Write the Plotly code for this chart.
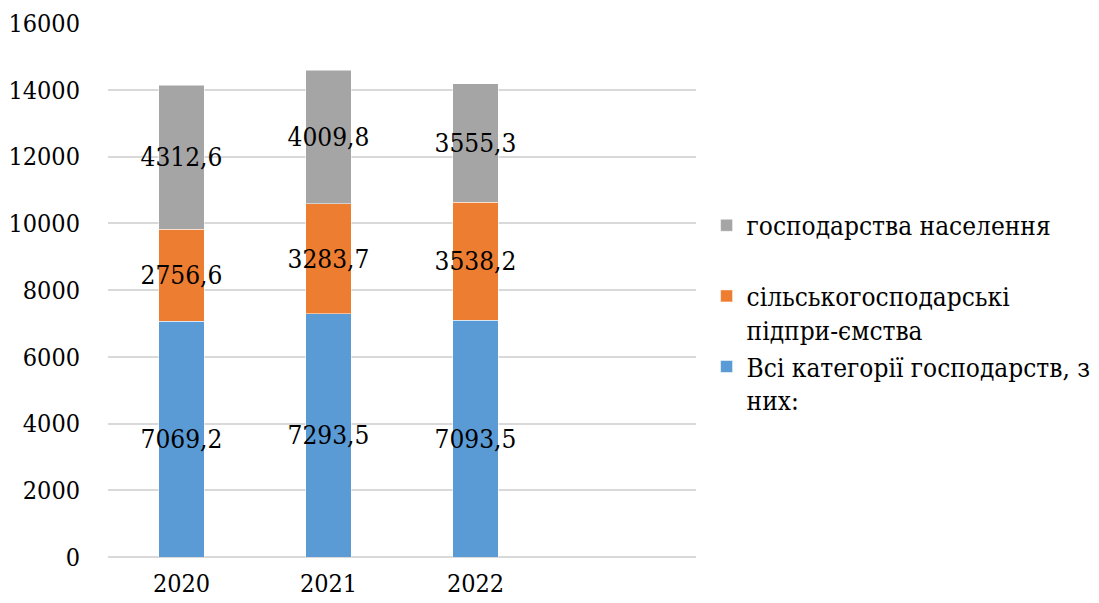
import plotly.graph_objects as go

years = ["2020", "2021", "2022"]
all_categories = [7069.2, 7293.5, 7093.5]
agri_enterprises = [2756.6, 3283.7, 3538.2]
households = [4312.6, 4009.8, 3555.3]

names = [
    "Всі категорії господарств, з<br>них:",
    "сільськогосподарські<br>підпри-ємства",
    "господарства населення<br> ",
]
colors = ["#5B9BD5", "#ED7D31", "#A5A5A5"]
series = [all_categories, agri_enterprises, households]

def fmt(v):
    return f"{v:.1f}".replace(".", ",")

FONT = "'DejaVu Serif Condensed', 'DejaVu Serif', serif"

fig = go.Figure()
for name, col, vals in zip(names, colors, series):
    fig.add_trace(go.Bar(
        x=years, y=vals, name=name,
        marker=dict(color=col, line=dict(color="rgba(255,255,255,0.5)", width=1)),
        width=0.31,
        text=[fmt(v) for v in vals],
        textposition="inside",
        insidetextanchor="middle",
        textangle=0,
        constraintext="none",
        textfont=dict(family=FONT, size=26, color="black"),
        cliponaxis=False,
    ))

fig.update_layout(
    barmode="stack",
    width=1099, height=603,
    margin=dict(l=108, r=403, t=23, b=46, autoexpand=False),
    paper_bgcolor="white", plot_bgcolor="white",
    font=dict(family=FONT, size=25, color="black"),
    showlegend=True,
    legend=dict(
        traceorder="reversed",
        x=1.018, xanchor="left",
        y=0.665, yanchor="top",
        valign="top",
        font=dict(family=FONT, size=26, color="black"),
        itemwidth=30,
        tracegroupgap=0,
    ),
    xaxis=dict(
        type="category",
        range=[-0.5, 3.5],
        showgrid=False, showline=False, zeroline=False,
        ticks="", ticklabelstandoff=9,
        tickfont=dict(family=FONT, size=25, color="black"),
    ),
    yaxis=dict(
        range=[0, 16000], dtick=2000,
        showgrid=True, gridcolor="#D9D9D9", gridwidth=1.5,
        zeroline=True, zerolinecolor="#D9D9D9", zerolinewidth=1.5,
        showline=False, ticks="", ticklabelstandoff=27,
        tickfont=dict(family=FONT, size=25, color="black"),
        tickformat="d",
    ),
)

fig.write_html("out.html", config={"displayModeBar": False},
               post_script="document.body.style.margin='0';document.body.style.padding='0';")
